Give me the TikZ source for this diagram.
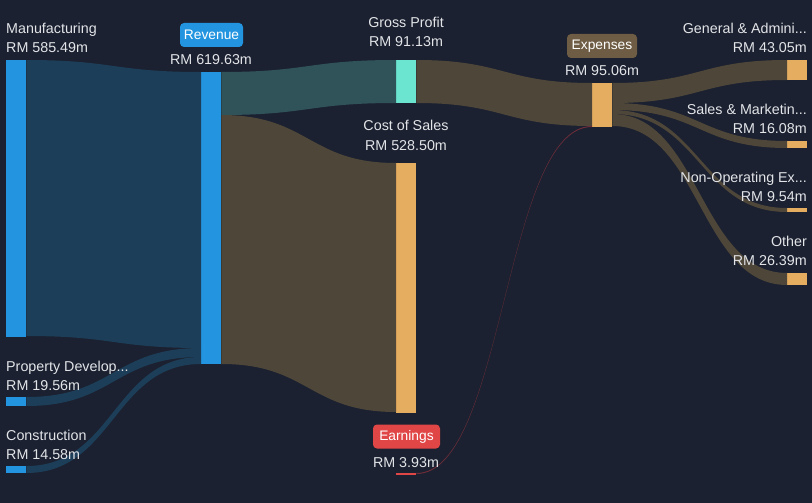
\documentclass[tikz,border=0pt]{standalone}
\usepackage{fontspec}
\setmainfont{Liberation Sans}
\usetikzlibrary{calc}

\definecolor{bg}{HTML}{1B2130}
\definecolor{txt}{HTML}{E2E4E8}
\definecolor{cblue}{HTML}{2394DF}
\definecolor{fblue}{HTML}{1D3E59}
\definecolor{fteal}{HTML}{2F5358}
\definecolor{cmint}{HTML}{6CE5D0}
\definecolor{fbrown}{HTML}{4E4639}
\definecolor{corange}{HTML}{E5AD5F}
\definecolor{cred}{HTML}{E04646}
\definecolor{fred}{HTML}{6E2C3A}
\definecolor{cexp}{HTML}{6E5D44}

% band from (anchor #1, offset #2) to (anchor #3, offset #4), thickness #5
\newcommand{\band}[6]{%
  \fill[#6] let \p1=($(#1)+(0,#2)$), \p2=($(#3)+(0,#4)$), \p3=(0,#5) in
    (\p1) .. controls ({(\x1+\x2)/2},\y1) and ({(\x1+\x2)/2},\y2) .. (\p2)
    -- ({\x2},{\y2+\y3})
    .. controls ({(\x1+\x2)/2},{\y2+\y3}) and ({(\x1+\x2)/2},{\y1+\y3}) .. ({\x1},{\y1+\y3})
    -- cycle;}

\begin{document}
\begin{tikzpicture}[x=1pt,y=-1pt,
    bar/.style={rectangle, inner sep=0pt, minimum width=20pt, anchor=north west},
    lbl/.style={text=txt, inner sep=0pt, font=\fontsize{14.3}{16}\selectfont},
    tag/.style={rounded corners=4pt, minimum height=24pt, inner sep=0pt, text=white,
        font=\fontsize{13.8}{16}\selectfont}]
    \fill[bg] (0,0) rectangle (812,503);
    \useasboundingbox (0,0) rectangle (812,503);

    \node[bar, fill=cblue, minimum height=277pt] (man) at (6,60) {};
    \node[bar, fill=cblue, minimum height=9pt] (prop) at (6,397) {};
    \node[bar, fill=cblue, minimum height=7pt] (cons) at (6,466) {};
    \node[bar, fill=cblue, minimum height=292pt] (rev) at (201,72) {};
    \node[bar, fill=cmint, minimum height=43pt] (gp) at (396,60) {};
    \node[bar, fill=corange, minimum height=250pt] (cos) at (396,163) {};
    \node[bar, fill=cred, minimum height=2pt] (earn) at (396,473) {};
    \node[bar, fill=corange, minimum height=44pt] (exp) at (592,83) {};
    \node[bar, fill=corange, minimum height=20pt] (ga) at (787,60) {};
    \node[bar, fill=corange, minimum height=7pt] (sm) at (787,141) {};
    \node[bar, fill=corange, minimum height=4pt] (nonop) at (787,208) {};
    \node[bar, fill=corange, minimum height=12pt] (oth) at (787,273) {};

    \band{man.north east}{0}{rev.north west}{0}{276}{fblue}
    \band{prop.north east}{0}{rev.north west}{276}{9}{fblue}
    \band{cons.north east}{0}{rev.north west}{285}{7}{fblue}
    \band{rev.north east}{0}{gp.north west}{0}{43}{fteal}
    \band{rev.north east}{43}{cos.north west}{0}{249}{fbrown}
    \band{gp.north east}{0}{exp.north west}{0}{43}{fbrown}
    \band{earn.north east}{0}{exp.north west}{43}{1}{fred}
    \band{exp.north east}{0}{ga.north west}{0}{20}{fbrown}
    \band{exp.north east}{20}{sm.north west}{0}{7}{fbrown}
    \band{exp.north east}{27}{nonop.north west}{0}{4}{fbrown}
    \band{exp.north east}{31}{oth.north west}{0}{12}{fbrown}

    \node[lbl, anchor=base west] (manT) at (6,34) {Manufacturing};
    \node[lbl, anchor=base west] (manV) at (6,53) {RM 585.49m};
    \node[lbl, anchor=base west] (propT) at (6,371) {Property Develop...};
    \node[lbl, anchor=base west] (propV) at (6,390) {RM 19.56m};
    \node[lbl, anchor=base west] (consT) at (6,440) {Construction};
    \node[lbl, anchor=base west] (consV) at (6,459) {RM 14.58m};

    \node[tag, fill=cblue, minimum width=63pt] (revT) at (211.5,35) {Revenue};
    \node[lbl, anchor=base] (revV) at (211,65) {RM 619.63m};
    \node[lbl, anchor=base] (gpT) at (406,28) {Gross Profit};
    \node[lbl, anchor=base] (gpV) at (406,47) {RM 91.13m};
    \node[lbl, anchor=base] (cosT) at (406,131) {Cost of Sales};
    \node[lbl, anchor=base] (cosV) at (406,150) {RM 528.50m};
    \node[tag, fill=cred, minimum width=67pt] (earnT) at (406.5,436.5) {Earnings};
    \node[lbl, anchor=base] (earnV) at (406,467) {RM 3.93m};
    \node[tag, fill=cexp, minimum width=70pt] (expT) at (602,46) {Expenses};
    \node[lbl, anchor=base] (expV) at (602,76) {RM 95.06m};

    \node[lbl, anchor=base east] (gaT) at (807,34) {General \& Admini...};
    \node[lbl, anchor=base east] (gaV) at (807,53) {RM 43.05m};
    \node[lbl, anchor=base east] (smT) at (807,114) {Sales \& Marketin...};
    \node[lbl, anchor=base east] (smV) at (807,133) {RM 16.08m};
    \node[lbl, anchor=base east] (nonopT) at (807,182) {Non-Operating Ex...};
    \node[lbl, anchor=base east] (nonopV) at (807,201) {RM 9.54m};
    \node[lbl, anchor=base east] (othT) at (807,246) {Other};
    \node[lbl, anchor=base east] (othV) at (807,265) {RM 26.39m};
\end{tikzpicture}
\end{document}
